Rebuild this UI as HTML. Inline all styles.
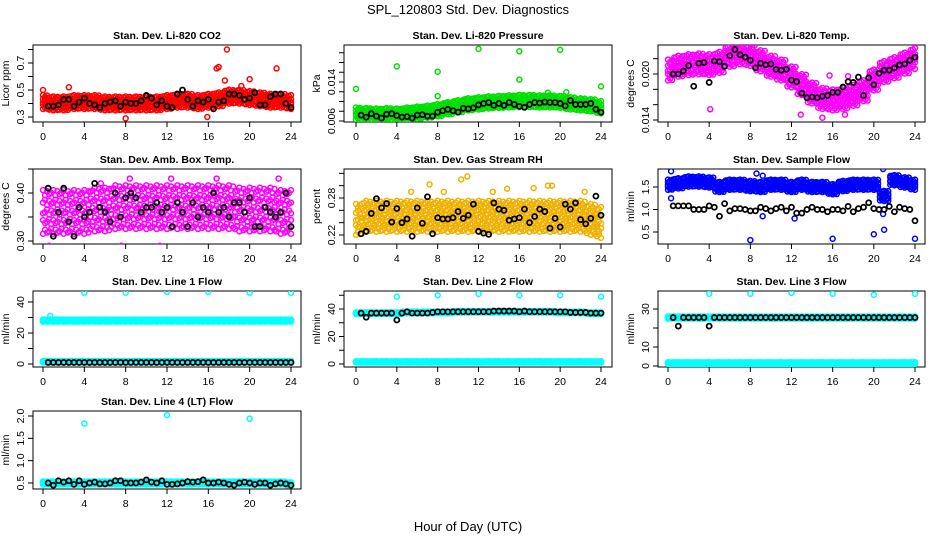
<!DOCTYPE html>
<html><head><meta charset="utf-8"><style>
html,body{margin:0;padding:0;background:#fff}
svg{display:block;font-family:"Liberation Sans",Arial,sans-serif}
</style></head><body>
<svg id="chart" width="936" height="540" viewBox="0 0 936 540" xmlns="http://www.w3.org/2000/svg">
<rect width="936" height="540" fill="#fff"/>
<text x="468" y="14" text-anchor="middle" font-size="13">SPL_120803  Std. Dev. Diagnostics</text>
<text x="468" y="531" text-anchor="middle" font-size="13">Hour of Day (UTC)</text>
</svg>
<script>
// ---------- data ----------
const xTicks=[0,4,8,12,16,20,24];
const titles=["Stan. Dev. Li-820 CO2","Stan. Dev. Li-820 Pressure","Stan. Dev. Li-820 Temp.","Stan. Dev. Amb. Box Temp.","Stan. Dev. Gas Stream RH","Stan. Dev. Sample Flow","Stan. Dev. Line 1 Flow","Stan. Dev. Line 2 Flow","Stan. Dev. Line 3 Flow","Stan. Dev. Line 4 (LT) Flow"];
const yTitles=["Licor ppm","kPa","degrees C","degrees C","percent","ml/min","ml/min","ml/min","ml/min","ml/min"];
const yTicks=[[0.3,0.4,0.5,0.6,0.7,0.8],[0.006,0.008,0.010,0.012,0.014,0.016,0.018,0.020],[0.014,0.016,0.018,0.020,0.022],[0.30,0.35,0.40,0.45],[0.22,0.24,0.26,0.28,0.30,0.32],[0.5,1.0,1.5],[0,10,20,30,40],[0,10,20,30,40,50],[0,10,20,30],[0.5,1.0,1.5,2.0]];
const yTickLabels=[["0.3","0.5","0.7"],["0.006","0.014"],["0.014","0.020"],["0.30","0.40"],["0.22","0.28"],["0.5","1.0","1.5"],["0","20","40"],["0","20","40"],["0","10","30"],["0.5","1.0","1.5","2.0"]];
// hourly centres (0..24) of colored clouds
const co2Band=[0.41,0.40,0.40,0.41,0.41,0.41,0.40,0.40,0.40,0.40,0.40,0.40,0.41,0.42,0.42,0.41,0.42,0.43,0.45,0.45,0.44,0.43,0.42,0.42,0.41];
const presBand=[0.0075,0.0074,0.0073,0.0074,0.0073,0.0075,0.0077,0.0079,0.0082,0.0086,0.0090,0.0094,0.0096,0.0098,0.0099,0.0100,0.0101,0.0101,0.0100,0.0100,0.0099,0.0096,0.0094,0.0092,0.0088];
const tempBand=[0.0205,0.0210,0.0212,0.0213,0.0212,0.0215,0.0223,0.0226,0.0224,0.0217,0.0210,0.0205,0.0196,0.0186,0.0175,0.0168,0.0166,0.0168,0.0172,0.0178,0.0192,0.0203,0.0208,0.0214,0.0220];
const boxBand=[0.36,0.36,0.36,0.36,0.36,0.365,0.365,0.37,0.37,0.37,0.37,0.37,0.37,0.37,0.37,0.37,0.37,0.37,0.37,0.365,0.365,0.365,0.365,0.36,0.36];
const rhBand=[0.245,0.25,0.25,0.25,0.25,0.25,0.25,0.25,0.25,0.25,0.25,0.25,0.25,0.25,0.25,0.25,0.25,0.25,0.25,0.25,0.25,0.25,0.25,0.245,0.24];
const flowBand=[1.55,1.58,1.62,1.62,1.60,1.50,1.55,1.55,1.52,1.50,1.55,1.55,1.50,1.55,1.50,1.50,1.45,1.52,1.55,1.55,1.55,1.30,1.65,1.60,1.55];
const line1Band=[28,28,28,28,28,28,28,28,28,28,28,28,28,28,28,28,28,28,28,28,28,28,28,28,28];
const line1Low=[1.5,1.5,1.5,1.5,1.5,1.5,1.5,1.5,1.5,1.5,1.5,1.5,1.5,1.5,1.5,1.5,1.5,1.5,1.5,1.5,1.5,1.5,1.5,1.5,1.5];
const line2Band=[37,37,37,37,37,37.5,37.5,37.5,37.5,37.5,38,38,38,38,38,38,38,38,38,38,37.5,37.5,37.5,37,37];
const line2Low=[1.5,1.5,1.5,1.5,1.5,1.5,1.5,1.5,1.5,1.5,1.5,1.5,1.5,1.5,1.5,1.5,1.5,1.5,1.5,1.5,1.5,1.5,1.5,1.5,1.5];
const line3Band=[25.5,25.5,25.5,25.5,25.5,25.5,25.5,25.5,25.5,25.5,25.5,25.5,25.5,25.5,25.5,25.5,25.5,25.5,25.5,25.5,25.5,25.5,25.5,25.5,25.5];
const line3Low=[1.5,1.5,1.5,1.5,1.5,1.5,1.5,1.5,1.5,1.5,1.5,1.5,1.5,1.5,1.5,1.5,1.5,1.5,1.5,1.5,1.5,1.5,1.5,1.5,1.5];
const line4Band=[0.5,0.5,0.5,0.5,0.5,0.5,0.5,0.5,0.5,0.5,0.5,0.5,0.5,0.5,0.5,0.5,0.5,0.5,0.5,0.5,0.5,0.5,0.5,0.5,0.48];
const bandSpread=[0.045,0.0011,0.0012,0.04,0.022,0.1,0.6,0.5,0.5,0.03];
const lowSpread=[0,0,0,0,0,0,0.4,0.4,0.4,0];
// colored outliers [hour, value]
const co2Out=[[0,0.5],[2.5,0.52],[16.8,0.66],[17,0.67],[17.8,0.8],[17.6,0.57],[20,0.58],[22.6,0.66],[8,0.29],[15.9,0.3],[19.2,0.53]];
const presOut=[[0,0.0126],[4,0.0172],[8,0.0161],[8,0.0111],[12,0.0208],[16,0.0203],[16,0.0145],[20,0.0206],[24,0.0131],[20.6,0.0119],[18.8,0.0118]];
const tempOut=[[4.1,0.0154],[17.2,0.0147],[12.9,0.0147],[15,0.0143],[15.7,0.0198],[17.5,0.0197]];
const boxOut=[[0.6,0.29],[7.6,0.29],[11.3,0.29],[8.4,0.43],[12.4,0.43],[5.6,0.42],[23.2,0.47],[16.8,0.43],[22.8,0.43]];
const rhOut=[[7.2,0.302],[10.3,0.31],[10.9,0.315],[8.6,0.29],[5.4,0.29],[18.8,0.30],[19.2,0.30],[22.4,0.29],[13.4,0.29],[14.8,0.295],[17.4,0.296]];
const flowOut=[[0.3,1.85],[0.3,1.25],[8,0.32],[16,0.35],[20,0.45],[21,0.55],[24,0.35],[9.2,0.85],[12.3,0.8],[20.9,0.9],[20.9,1.9],[8.6,1.8],[9.2,1.75]];
const line1Out=[[4,46],[8,46],[12,46.5],[16,46.5],[20,46],[24,46],[0.7,31]];
const line2Out=[[4,49],[8,50],[12,51],[16,50],[20,50],[24,49]];
const line3Out=[[4,38],[8,38],[12,38.5],[16,38],[20,37.5],[24,38]];
const line4Out=[[4,1.83],[12,2.02],[20,1.94]];
// black series, every 0.5 h starting at 0.5
const co2Blk=[0.38,0.38,0.39,0.43,0.43,0.38,0.41,0.44,0.40,0.39,0.37,0.40,0.41,0.42,0.38,0.41,0.40,0.40,0.42,0.46,0.44,0.39,0.42,0.38,0.37,0.47,0.50,0.43,0.38,0.42,0.41,0.43,0.36,0.41,0.42,0.47,0.47,0.46,0.43,0.44,0.48,0.39,0.39,0.45,0.47,0.47,0.40,0.37];
const presBlk=[0.0072,0.0068,0.0075,0.0070,0.0066,0.0074,0.0075,0.0071,0.0068,0.0069,0.0066,0.0072,0.0073,0.0070,0.0070,0.0078,0.0081,0.0084,0.0081,0.0078,0.0086,0.0085,0.0087,0.0093,0.0096,0.0098,0.0092,0.0096,0.0092,0.0098,0.0094,0.0090,0.0088,0.0094,0.0098,0.0097,0.0099,0.0098,0.0098,0.0096,0.0091,0.0102,0.0094,0.0094,0.0094,0.0096,0.0084,0.0078];
const tempBlk=[0.0200,0.0200,0.0204,0.0211,0.0184,0.0214,0.0215,0.0189,0.0217,0.0216,0.0210,0.0224,0.0232,0.0225,0.0222,0.0218,0.0208,0.0214,0.0212,0.0213,0.0206,0.0205,0.0206,0.0192,0.0190,0.0175,0.0169,0.0170,0.0169,0.0171,0.0172,0.0176,0.0176,0.0183,0.0190,0.0189,0.0196,0.0172,0.0195,0.0186,0.0201,0.0205,0.0205,0.0208,0.0212,0.0213,0.0218,0.0222];
const boxBlk=[0.41,0.31,0.36,0.41,0.34,0.31,0.37,0.35,0.36,0.42,0.37,0.36,0.34,0.40,0.35,0.39,0.40,0.39,0.36,0.37,0.37,0.38,0.36,0.37,0.33,0.38,0.36,0.33,0.38,0.35,0.37,0.36,0.40,0.36,0.37,0.35,0.38,0.38,0.36,0.39,0.33,0.33,0.37,0.36,0.35,0.36,0.40,0.33];
const rhBlk=[0.222,0.226,0.255,0.279,0.264,0.271,0.241,0.263,0.240,0.246,0.218,0.264,0.239,0.282,0.222,0.248,0.246,0.246,0.248,0.258,0.247,0.252,0.270,0.226,0.223,0.221,0.272,0.262,0.260,0.244,0.246,0.248,0.262,0.240,0.250,0.262,0.258,0.231,0.247,0.233,0.270,0.262,0.272,0.245,0.238,0.247,0.283,0.252];
const flowBlk=[1.08,1.08,1.08,1.08,1.0,1.0,1.0,1.08,1.05,0.85,1.13,0.97,1.02,1.02,1.0,0.97,0.97,1.05,1.02,0.97,1.02,1.05,0.97,1.05,0.92,0.92,1.0,1.05,1.0,1.0,0.95,1.0,1.0,0.97,1.07,0.95,1.02,1.05,1.15,1.02,1.0,1.0,1.07,0.95,1.05,1.02,1.0,0.75];
const line1Blk=[1,1,1,1,1,1,1,1,1,1,1,1,1,1,1,1,1,1,1,1,1,1,1,1,1,1,1,1,1,1,1,1,1,1,1,1,1,1,1,1,1,1,1,1,1,1,1,1];
const line2Blk=[37,34,37,37,37,37,37,32,37,38,37,37,37,37,37.5,38,38,38,38,38,38,38,38,38,38,38,38.5,38.5,38.5,38.5,38.5,38,38.5,38,38,38,38,38,38,38,38,37.5,37.5,37.5,37.5,37,37,37];
const line3Blk=[25.5,21,25.5,25.5,25.5,25.5,25.5,21,25.5,25.5,25.5,25.5,25.5,25.5,25.5,25.5,25.5,25.5,25.5,25.5,25.5,25.5,25.5,25.5,25.5,25.5,25.5,25.5,25.5,25.5,25.5,25.5,25.5,25.5,25.5,25.5,25.5,25.5,25.5,25.5,25.5,25.5,25.5,25.5,25.5,25.5,25.5,25.5];
const line4Blk=[0.5,0.45,0.55,0.52,0.55,0.47,0.55,0.47,0.5,0.52,0.48,0.48,0.5,0.55,0.55,0.5,0.5,0.5,0.52,0.57,0.52,0.5,0.55,0.47,0.47,0.48,0.5,0.53,0.52,0.53,0.57,0.5,0.5,0.52,0.5,0.47,0.45,0.5,0.52,0.5,0.47,0.5,0.5,0.45,0.48,0.5,0.48,0.45];

const bands=[co2Band,presBand,tempBand,boxBand,rhBand,flowBand,line1Band,line2Band,line3Band,line4Band];
const lows=[null,null,null,null,null,null,line1Low,line2Low,line3Low,null];
const outs=[co2Out,presOut,tempOut,boxOut,rhOut,flowOut,line1Out,line2Out,line3Out,line4Out];
const blks=[co2Blk,presBlk,tempBlk,boxBlk,rhBlk,flowBlk,line1Blk,line2Blk,line3Blk,line4Blk];
const colors=["#ff0000","#00e000","#ff00ff","#ff00ff","#f0b000","#0000ff","#00ffff","#00ffff","#00ffff","#00ffff"];

// ---------- geometry (layout only) ----------
const cols=[[33,301,43,291],[344,612,356,601],[658,925,668,915]];
const rows=[[45,122],[169,244],[291,367],[411,489]];
const yCal=[[0.3,117,0.7,63],[0.006,121,0.014,82],[0.014,120,0.020,74],[0.30,241,0.40,193],[0.22,235,0.28,198],[0.5,232,1.5,187],[0,364,40,302],[0,364,40,309],[0,366,30,309],[0.5,483,2.0,416]];

const NS="http://www.w3.org/2000/svg";
const svg=document.getElementById('chart');
function mk(tag,attrs,parent){const e=document.createElementNS(NS,tag);for(const k in attrs)e.setAttribute(k,attrs[k]);(parent||svg).appendChild(e);return e;}

for(let p=0;p<10;p++){
  const c=cols[p%3], r=rows[Math.floor(p/3)];
  const [L,R,x0,x24]=c, [T,B]=r;
  const cal=yCal[p];
  const xs=h=>x0+(x24-x0)*h/24;
  const ys=v=>cal[1]+(v-cal[0])*(cal[3]-cal[1])/(cal[2]-cal[0]);
  const g=mk('g',{});
  
  
  const cp=mk('clipPath',{id:'cp'+p},g);
  mk('rect',{x:L,y:T,width:R-L,height:B-T},cp);
  const t=mk('text',{x:(L+R)/2,y:T-6,'text-anchor':'middle','font-size':'10.5','font-weight':'bold'},g);
  t.textContent=titles[p];
  
  
  const yl=mk('text',{x:L-24,y:(T+B)/2,'text-anchor':'middle','font-size':'10.5',transform:`rotate(-90 ${L-24} ${(T+B)/2})`},g);
  yl.textContent=yTitles[p];
  
  
  const box=mk('rect',{x:L,y:T,width:R-L,height:B-T,fill:'none',stroke:'#000','stroke-width':1},g);
  
  
  for(const h of xTicks){
    const x=xs(h);
    mk('line',{x1:x,y1:B,x2:x,y2:B+5,stroke:'#000'},g);
    const tl=mk('text',{x:x,y:B+18,'text-anchor':'middle','font-size':'10.5'},g);
    tl.textContent=h;
    
    
  }
  const yt=yTicks[p];
  mk('line',{x1:L,y1:ys(yt[0]),x2:L,y2:ys(yt[yt.length-1]),stroke:'#000'},g);
  for(const v of yt){
    const y=ys(v);
    mk('line',{x1:L-5,y1:y,x2:L,y2:y,stroke:'#000'},g);
  }
  for(const s of yTickLabels[p]){
    const y=ys(parseFloat(s));
    const tl=mk('text',{x:L-9,y:y,'text-anchor':'middle','font-size':'10.5',transform:`rotate(-90 ${L-9} ${y})`},g);
    tl.textContent=s;
    
    
  }
  const pg=mk('g',{'clip-path':`url(#cp${p})`,fill:'none','stroke-width':1.5},g);
  const dyf=[-1,-0.5,0,0.5,1], dxf=[-0.4,-0.2,0,0.2,0.4];
  const stag=[0,0.25,-0.2,0.15,-0.1];
  const drawBand=(arr,sp)=>{
    arr.forEach((v,i)=>{
      dxf.forEach((dx,j)=>{
        const h=i+dx; if(h<0||h>24)return;
        dyf.forEach((dy,k)=>{
          const off=(dy+stag[(j+k)%5]*0.6)*sp;
          const pt=mk('circle',{cx:xs(h),cy:ys(v+off),r:2.5,stroke:colors[p]},pg);
          
          
        });
      });
    });
  };
  drawBand(bands[p],bandSpread[p]);
  if(lows[p])drawBand(lows[p],lowSpread[p]);
  for(const [h,v] of outs[p]){
    const pt=mk('circle',{cx:xs(h),cy:ys(v),r:2.5,stroke:colors[p]},pg);
    
    
  }
  blks[p].forEach((v,i)=>{
    const pt=mk('circle',{cx:xs(0.5+i*0.5),cy:ys(v),r:2.5,stroke:'#000','stroke-width':1.8},pg);
    
    
  });
}
</script>
</body></html>
